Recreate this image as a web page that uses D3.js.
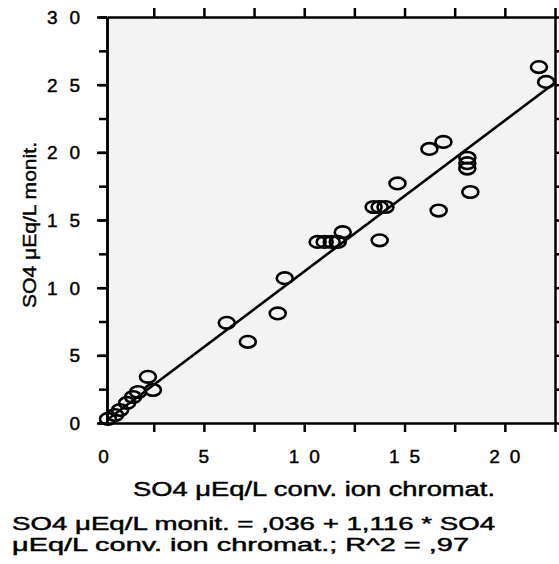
<!DOCTYPE html>
<meta charset="utf-8">
<head>
  <style>
    body { margin: 0; background: #fff; }
    svg { display: block; }
    text { font-family: "Liberation Sans", Arial, sans-serif; fill: #000; stroke: #000; stroke-width: 0.45; }
    .axis path, .axis line { stroke: #000; stroke-width: 2.5; }
    .pt { fill: none; stroke: #000; stroke-width: 2.6; }
    .fit { stroke: #000; stroke-width: 2.6; fill: none; }
  </style>
  <script src="https://cdn.jsdelivr.net/npm/d3@7"></script>
</head>
<body>
<script>

// values
var xVals = [0.22, 0.57, 0.82, 1.17, 1.47, 1.72, 2.46, 2.21, 6.14, 7.19, 8.68, 9.03,
             10.67, 11.02, 11.37, 11.67, 11.92, 13.46, 13.76, 14.05, 13.76, 14.65,
             16.24, 16.94, 16.7, 18.13, 18.13, 18.13, 18.28, 21.7, 22.06];
var yVals = [0.3, 0.59, 0.96, 1.48, 1.92, 2.29, 2.44, 3.41, 7.4, 6.0, 8.1, 10.7,
             13.38, 13.38, 13.38, 13.38, 14.1, 15.96, 15.96, 15.96, 13.5, 17.7,
             20.25, 20.77, 15.7, 19.6, 19.2, 18.8, 17.07, 26.3, 25.2];

var yTickLabels = [0, 5, 10, 15, 20, 25, 30];
var xTickLabels = [0, 5, 10, 15, 20];

// fitted line: y = ,036 + 1,116 * x
var fitIntercept = 0.036, fitSlope = 1.116;
var fitX = [0.17, 22.5];

var xTitle = "SO4 \u03bcEq/L conv. ion chromat.";
var yTitle = "SO4 \u03bcEq/L monit.";
var eqLines = ["SO4 \u03bcEq/L monit. = ,036 + 1,116 * SO4",
               "\u03bcEq/L conv. ion chromat.; R^2 = ,97"];

var width = 559, height = 564;
var svg = d3.select("body").append("svg")
    .attr("width", width)
    .attr("height", height);

var x = d3.scaleLinear().domain([0.17, 22.5]).range([107, 555]);
var y = d3.scaleLinear().domain([0, 30]).range([423, 17]);

// plot background (greyish scan)
svg.append("rect")
    .attr("x", x.range()[0]).attr("y", y.range()[1])
    .attr("width", x.range()[1] - x.range()[0])
    .attr("height", y.range()[0] - y.range()[1])
    .attr("fill", "#f3f3f3");

var steps = d3.range(0, 30.1, 2.5);
var xsteps = d3.range(2.5, 22.6, 2.5);

// left axis: minor then major ticks
svg.append("g").attr("class", "axis")
    .attr("transform", "translate(" + x.range()[0] + ",0)")
    .call(d3.axisLeft(y).tickValues(steps).tickSize(8).tickSizeOuter(0).tickFormat(""));
svg.append("g").attr("class", "axis")
    .attr("transform", "translate(" + x.range()[0] + ",0)")
    .call(d3.axisLeft(y).tickValues(yTickLabels).tickSize(10).tickSizeOuter(0).tickFormat(""));

// right axis
svg.append("g").attr("class", "axis")
    .attr("transform", "translate(" + x.range()[1] + ",0)")
    .call(d3.axisRight(y).tickValues(steps).tickSize(8).tickSizeOuter(0).tickFormat(""));

// bottom / top axis
svg.append("g").attr("class", "axis")
    .attr("transform", "translate(0," + y.range()[0] + ")")
    .call(d3.axisBottom(x).tickValues(xsteps).tickSize(9).tickSizeOuter(0).tickFormat(""));
svg.append("g").attr("class", "axis")
    .attr("transform", "translate(0," + y.range()[1] + ")")
    .call(d3.axisTop(x).tickValues(xsteps).tickSize(9).tickSizeOuter(0).tickFormat(""));

// tick labels, spaced out like the original
svg.selectAll(".ylab")
    .data(yTickLabels)
  .enter().append("text")
    .attr("class", "ylab")
    .attr("x", 80)
    .attr("y", function(d) { return y(d) + 7; })
    .attr("text-anchor", "end")
    .style("font-size", "19px")
    .attr("textLength", function(d) { return d >= 10 ? 33 : null; })
    .attr("lengthAdjust", "spacing")
    .text(function(d) { return d; });

svg.selectAll(".xlab")
    .data(xTickLabels)
  .enter().append("text")
    .attr("class", "xlab")
    .attr("x", function(d) { return x(d); })
    .attr("y", 463)
    .attr("text-anchor", "middle")
    .style("font-size", "19px")
    .attr("textLength", function(d) { return d >= 10 ? 31 : null; })
    .attr("lengthAdjust", "spacing")
    .text(function(d) { return d; });

// fitted line
svg.append("line")
    .attr("class", "fit")
    .attr("x1", x(fitX[0])).attr("y1", y(fitIntercept + fitSlope * fitX[0]))
    .attr("x2", x(fitX[1])).attr("y2", y(fitIntercept + fitSlope * fitX[1]));

// points
svg.selectAll(".pt")
    .data(xVals)
  .enter().append("ellipse")
    .attr("class", "pt")
    .attr("cx", function(d) { return x(d); })
    .attr("cy", function(d, i) { return y(yVals[i]); })
    .attr("rx", 8)
    .attr("ry", 5.8);

// titles
svg.append("text")
    .attr("x", 133).attr("y", 496)
    .style("font-size", "20px")
    .attr("textLength", 362).attr("lengthAdjust", "spacingAndGlyphs")
    .text(xTitle);

svg.append("text")
    .attr("transform", "translate(36,308) rotate(-90)")
    .style("font-size", "19px")
    .attr("textLength", 166).attr("lengthAdjust", "spacingAndGlyphs")
    .text(yTitle);

svg.selectAll(".eq")
    .data(eqLines)
  .enter().append("text")
    .attr("class", "eq")
    .attr("x", 12)
    .attr("y", function(d, i) { return 530 + i * 21; })
    .style("font-size", "18px")
    .attr("textLength", function(d, i) { return i == 0 ? 483 : 457; })
    .attr("lengthAdjust", "spacingAndGlyphs")
    .text(function(d) { return d; });

</script>
</body>
